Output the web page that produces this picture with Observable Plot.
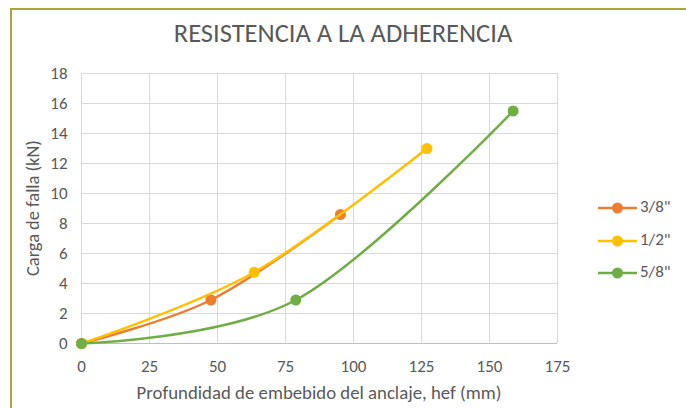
<!DOCTYPE html>
<html>
<head>
<meta charset="utf-8">
<script src="https://cdn.jsdelivr.net/npm/d3@7"></script>
<script src="https://cdn.jsdelivr.net/npm/@observablehq/plot@0.6"></script>
<style>
  html, body { margin: 0; padding: 0; background: #fff; }
  #wrap { position: relative; width: 686px; height: 408px; overflow: hidden; font-family: Carlito, "Liberation Sans", Arial, sans-serif; color: #595959; }
  #frame { position: absolute; left: 10px; top: 8px; width: 700px; height: 420px; border-left: 2px solid #aaa43a; border-top: 2px solid #aaa43a; box-sizing: border-box; }
  #title { position: absolute; left: 0; width: 686px; top: 20px; line-height: 26px; text-align: center; font-size: 26.5px; white-space: nowrap; }
  #xlabel { position: absolute; left: 81px; width: 476px; top: 383px; line-height: 20px; text-align: center; font-size: 18.8px; white-space: nowrap; }
  #ylabel { position: absolute; left: -67px; width: 200px; top: 198px; line-height: 20px; text-align: center; font-size: 18.4px; white-space: nowrap; transform: rotate(-90deg); transform-origin: 100px 10px; }
  #legend { position: absolute; left: 598px; top: 196px; font-size: 17px; }
  .li { position: relative; height: 32.5px; }
  .li svg { position: absolute; left: 0; top: 0; }
  .li span { position: absolute; left: 42px; top: 1px; line-height: 20px; white-space: nowrap; }
  #chart { position: absolute; left: 0; top: 0; }
</style>
</head>
<body>
<div id="wrap">
  <div id="frame"></div>
  <div id="chart"></div>
  <div id="title"></div>
  <div id="xlabel"></div>
  <div id="ylabel"></div>
  <div id="legend"></div>
</div>
<script>
const title = "RESISTENCIA A LA ADHERENCIA";
const xLabel = "Profundidad de embebido del anclaje, hef (mm)";
const yLabel = "Carga de falla (kN)";
const seriesNames = ["3/8\"", "1/2\"", "5/8\""];
const seriesColors = ["#ED7D31", "#FFC000", "#70AD47"];
const x38 = [0, 47.6, 95.2];
const y38 = [0, 2.9, 8.6];
const x12 = [0, 63.5, 127];
const y12 = [0, 4.75, 13.0];
const x58 = [0, 78.8, 158.7];
const y58 = [0, 2.9, 15.5];
const xTicks = [0, 25, 50, 75, 100, 125, 150, 175];
const yTicks = [0, 2, 4, 6, 8, 10, 12, 14, 16, 18];

const series = [
  {name: seriesNames[0], color: seriesColors[0], data: x38.map((x, i) => ({x, y: y38[i]}))},
  {name: seriesNames[1], color: seriesColors[1], data: x12.map((x, i) => ({x, y: y12[i]}))},
  {name: seriesNames[2], color: seriesColors[2], data: x58.map((x, i) => ({x, y: y58[i]}))}
];

const marks = [
  Plot.gridX(xTicks, {stroke: "#d9d9d9", strokeOpacity: 1, strokeWidth: 1}),
  Plot.gridY(yTicks, {stroke: "#d9d9d9", strokeOpacity: 1, strokeWidth: 1}),
  Plot.ruleY([0], {stroke: "#bfbfbf", strokeWidth: 1})
];
for (const s of series) {
  marks.push(Plot.line(s.data, {x: "x", y: "y", stroke: s.color, strokeWidth: 2.5, curve: "cardinal", tension: 0}));
  marks.push(Plot.dot(s.data, {x: "x", y: "y", fill: s.color, r: 5.5}));
}
marks.push(Plot.axisX({ticks: xTicks, tickSize: 0, tickPadding: 16, label: null, fontSize: 17, color: "#595959"}));
marks.push(Plot.axisY({ticks: yTicks, tickSize: 0, tickPadding: 14, label: null, fontSize: 17, color: "#595959"}));

const plot = Plot.plot({
  width: 686,
  height: 408,
  marginLeft: 81,
  marginRight: 129,
  marginTop: 73,
  marginBottom: 65,
  x: {domain: [0, 175]},
  y: {domain: [0, 18]},
  style: {fontFamily: "Carlito, 'Liberation Sans', Arial, sans-serif", fontSize: "17px", color: "#595959", background: "transparent", overflow: "visible"},
  marks
});
document.getElementById("chart").appendChild(plot);
document.getElementById("title").textContent = title;
document.getElementById("xlabel").textContent = xLabel;
document.getElementById("ylabel").textContent = yLabel;

const legend = document.getElementById("legend");
for (const s of series) {
  const div = document.createElement("div");
  div.className = "li";
  div.innerHTML = `<svg width="40" height="24"><line x1="0" x2="39" y1="12" y2="12" stroke="${s.color}" stroke-width="2.5"/><circle cx="19.5" cy="12" r="5.5" fill="${s.color}"/></svg><span></span>`;
  div.querySelector("span").textContent = s.name;
  legend.appendChild(div);
}
</script>
</body>
</html>
